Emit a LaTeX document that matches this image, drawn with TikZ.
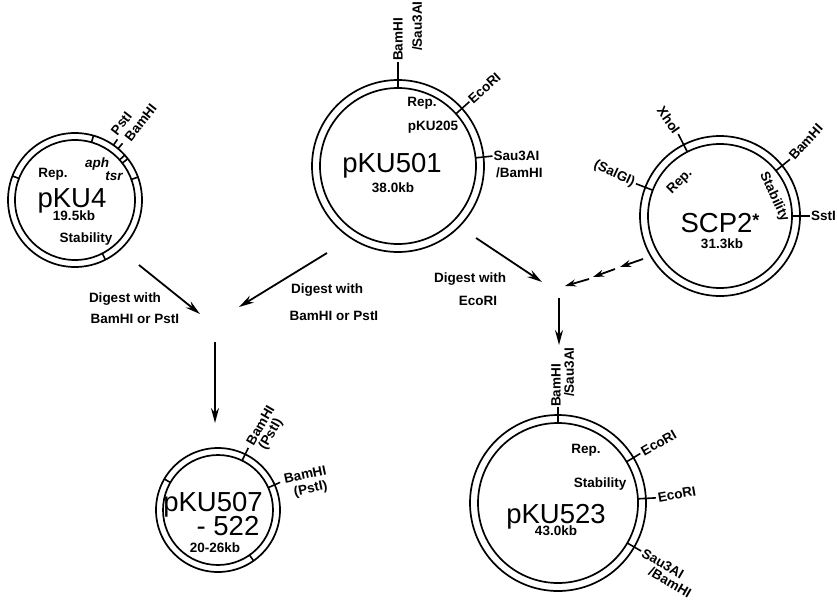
\documentclass[tikz,border=0pt]{standalone}
\usepackage{fontspec}
\setmainfont{Liberation Sans}
\usetikzlibrary{arrows.meta}
\begin{document}
\begin{tikzpicture}[x=1pt,y=1pt,
 ring/.style={line width=1.7pt},
 tk/.style={line width=1.6pt},
 lab/.style={font=\bfseries\fontsize{13.5}{15}\selectfont, inner sep=1pt},
 itl/.style={font=\bfseries\itshape\fontsize{13.5}{15}\selectfont, inner sep=1pt},
 big/.style={font=\fontsize{27.5}{30}\selectfont, inner sep=0pt},
 arr/.style={line width=1.8pt, -{Stealth[length=15pt,width=8pt]}},
 darr/.style={line width=1.8pt, -{Stealth[length=11pt,width=7pt]}},
]
\useasboundingbox (0,0) rectangle (837,-602);
\fill[white] (0,0) rectangle (837,-602);

% ---------- pKU4 ----------
\coordinate (c4) at (75,-200);
\draw[ring] (c4) circle (67) (c4) circle (60);
\foreach \a in {74,159,38,42,20,-63} \draw[tk] ([shift={(\a:60)}]c4) -- ([shift={(\a:67)}]c4);
\foreach \a in {50,55} \draw[tk] ([shift={(\a:67)}]c4) -- ([shift={(\a:74)}]c4);
\node[lab, rotate=52, anchor=west] (l4a) at ([shift={(60:76)}]c4) {PstI};
\node[lab, rotate=52, anchor=west] (l4b) at ([shift={(49:79)}]c4) {BamHI};
\node[lab, anchor=base] (t4a) at (53,-177) {Rep.};
\node[itl, anchor=base] (t4b) at (97,-167) {aph};
\node[itl, anchor=base] (t4c) at (114,-180) {tsr};
\node[big, anchor=base] (t4d) at (72,-207) {pKU4};
\node[lab, anchor=base] (t4e) at (74,-220) {19.5kb};
\node[lab, anchor=base] (t4f) at (86,-242) {Stability};

% ---------- pKU501 ----------
\coordinate (c1) at (398,-166);
\draw[ring] (c1) circle (86) (c1) circle (78);
\draw[tk] ([shift={(90:78)}]c1) -- ([shift={(90:104)}]c1);
\draw[tk] ([shift={(42:78)}]c1) -- ([shift={(42:96)}]c1);
\draw[tk] ([shift={(6:78)}]c1) -- ([shift={(6:95)}]c1);
\node[lab, rotate=90, anchor=west] (l1a) at ([shift={(90:104)}]c1) {BamHI};
\node[lab, rotate=90, anchor=west] (l1b) at (417,-52) {/Sau3AI};
\node[lab, rotate=42, anchor=west] (l1c) at ([shift={(42:96)}]c1) {EcoRI};
\node[lab, anchor=west] (l1d) at ([shift={(6:95)}]c1) {Sau3AI};
\node[lab, anchor=west] (l1e) at (495,-173) {/BamHI};
\node[lab, anchor=base] (t1a) at (422,-106) {Rep.};
\node[lab, anchor=base] (t1b) at (433,-130) {pKU205};
\node[big, anchor=base] (t1c) at (392,-172) {pKU501};
\node[lab, anchor=base] (t1d) at (393,-192) {38.0kb};

% ---------- SCP2* ----------
\coordinate (c2) at (720,-216);
\draw[ring] (c2) circle (80) (c2) circle (72);
\draw[tk] ([shift={(117:72)}]c2) -- ([shift={(117:92)}]c2);
\draw[tk] ([shift={(159:72)}]c2) -- ([shift={(159:90)}]c2);
\draw[tk] ([shift={(39:72)}]c2) -- ([shift={(39:90)}]c2);
\draw[tk] ([shift={(0:72)}]c2) -- ([shift={(0:90)}]c2);
\node[lab, rotate=-55, anchor=east] (l2a) at ([shift={(117:93)}]c2) {XhoI};
\node[lab, rotate=-25, anchor=east] (l2b) at ([shift={(159:91)}]c2) {(SalGI)};
\node[lab, rotate=48, anchor=west] (l2c) at ([shift={(39:91)}]c2) {BamHI};
\node[lab, anchor=west] (l2d) at ([shift={(0:90)}]c2) {SstI};
\node[lab, rotate=45] (t2a) at (680,-182) {Rep.};
\node[lab, rotate=-65] (t2b) at (774,-197) {Stability};
\node[big, anchor=base] (t2c) at (720,-232) {SCP2\raisebox{6pt}{\fontsize{18}{18}\selectfont\bfseries *}};
\node[lab, anchor=base] (t2d) at (722,-248) {31.3kb};

% ---------- pKU507-522 ----------
\coordinate (c7) at (218,-510);
\draw[ring] (c7) circle (62) (c7) circle (55);
\draw[tk] ([shift={(64:55)}]c7) -- ([shift={(64:69)}]c7);
\draw[tk] ([shift={(24:55)}]c7) -- ([shift={(24:68)}]c7);
\foreach \a in {150,-55} \draw[tk] ([shift={(\a:55)}]c7) -- ([shift={(\a:62)}]c7);
\node[lab, rotate=60, anchor=west] (l7a) at (249,-445) {BamHI};
\node[lab, rotate=60, anchor=west] (l7b) at (262,-450) {(PstI)};
\node[lab, rotate=12, anchor=west] (l7c) at (283,-479) {BamHI};
\node[lab, rotate=12, anchor=west] (l7d) at (293,-493) {(PstI)};
\node[big, anchor=base] (t7a) at (213,-511) {pKU507};
\node[big, anchor=base] (t7b) at (228,-535) {- 522};
\node[lab, anchor=base] (t7c) at (215,-552) {20-26kb};

% ---------- pKU523 ----------
\coordinate (c3) at (558,-503);
\draw[ring] (c3) circle (88) (c3) circle (80);
\draw[tk] ([shift={(90:80)}]c3) -- ([shift={(90:96)}]c3);
\draw[tk] ([shift={(31:80)}]c3) -- ([shift={(31:96)}]c3);
\draw[tk] ([shift={(3:80)}]c3) -- ([shift={(3:98)}]c3);
\draw[tk] ([shift={(-30:80)}]c3) -- ([shift={(-30:96)}]c3);
\node[lab, rotate=90, anchor=west] (l3a) at (556,-408) {BamHI};
\node[lab, rotate=90, anchor=west] (l3b) at (569,-398) {/Sau3AI};
\node[lab, rotate=30, anchor=west] (l3c) at ([shift={(31:97)}]c3) {EcoRI};
\node[lab, rotate=10, anchor=west] (l3d) at ([shift={(3:99)}]c3) {EcoRI};
\node[lab, rotate=-30, anchor=west] (l3e) at ([shift={(-30:97)}]c3) {Sau3AI};
\node[lab, rotate=-30, anchor=west] (l3f) at (649,-570) {/BamHI};
\node[lab, anchor=base] (t3a) at (586,-453) {Rep.};
\node[lab, anchor=base] (t3b) at (600,-487) {Stability};
\node[big, anchor=base] (t3c) at (556,-523) {pKU523};
\node[lab, anchor=base] (t3d) at (556,-535) {43.0kb};

% ---------- arrows ----------
\coordinate (a1s) at (139,-265); \coordinate (a1e) at (200,-314);
\coordinate (a2s) at (327,-253); \coordinate (a2e) at (239,-307);
\coordinate (a3s) at (215,-342); \coordinate (a3e) at (215,-423);
\coordinate (a4s) at (476,-238); \coordinate (a4e) at (542,-282);
\coordinate (d1s) at (643,-259); \coordinate (d1e) at (620,-267);
\coordinate (d2s) at (615,-269); \coordinate (d2e) at (593,-277);
\coordinate (d3s) at (589,-279); \coordinate (d3e) at (565,-286);
\coordinate (a6s) at (559,-298); \coordinate (a6e) at (559,-345);
\draw[arr] (a1s) -- (a1e);
\draw[arr] (a2s) -- (a2e);
\draw[arr] (a3s) -- (a3e);
\draw[arr] (a4s) -- (a4e);
\draw[darr] (d1s) -- (d1e);
\draw[darr] (d2s) -- (d2e);
\draw[darr] (d3s) -- (d3e);
\draw[arr] (a6s) -- (a6e);

\node[lab, anchor=base] (g1a) at (125,-302) {Digest with};
\node[lab, anchor=base] (g1b) at (135,-323) {BamHI or PstI};
\node[lab, anchor=base] (g2a) at (327,-293) {Digest with};
\node[lab, anchor=base] (g2b) at (334,-320) {BamHI or PstI};
\node[lab, anchor=base] (g3a) at (470,-282) {Digest with};
\node[lab, anchor=base] (g3b) at (478,-305) {EcoRI};
\end{tikzpicture}
\end{document}
